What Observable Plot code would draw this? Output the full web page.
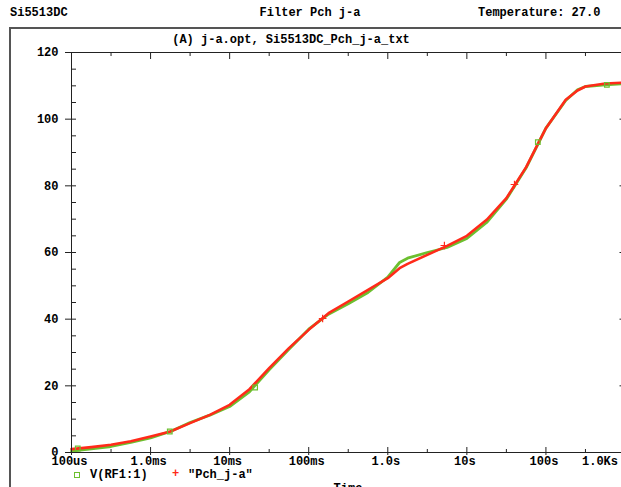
<!DOCTYPE html>
<html>
<head>
<meta charset="utf-8">
<script src="https://cdn.jsdelivr.net/npm/d3@7"></script>
<script src="https://cdn.jsdelivr.net/npm/@observablehq/plot@0.6"></script>
<style>
  html, body { margin: 0; padding: 0; background: #fff; overflow: hidden; }
  #wrap { position: relative; width: 621px; height: 487px; overflow: hidden; background: #fff; }
  #wrap svg { position: absolute; left: 0; top: 0; max-width: none !important; }
  .t { position: absolute; font-family: "Liberation Mono", "DejaVu Sans Mono", monospace; font-weight: bold; font-size: 12px; line-height: 11px; color: #000; white-space: pre; }
  #frame { position: absolute; left: 9px; top: 27px; width: 700px; height: 600px; border-left: 2px solid #555; border-top: 2px solid #555; }
</style>
</head>
<body>
<div id="wrap">
  <div id="frame"></div>
</div>
<script>
// ---- data ----
const timeS = [1e-4, 1.78e-4, 3.16e-4, 5.62e-4, 1e-3, 1.78e-3, 3.16e-3, 5.62e-3, 1e-2, 1.78e-2, 3.16e-2, 5.62e-2,
  0.1, 0.178, 0.316, 0.562, 1, 1.41, 1.78, 3.16, 5.62, 10, 17.8, 31.6, 56.2, 100, 178, 251, 316, 562, 1000];
const vRF1 = [0.4, 1.1, 1.8, 3.0, 4.4, 6.3, 9.0, 11.2, 13.8, 18.2, 24.8, 31.0,
  37.0, 41.5, 44.6, 48.0, 52.6, 57.0, 58.3, 60.0, 61.5, 64.2, 69.0, 76.0, 85.4, 97.3, 105.6, 108.8, 109.8, 110.3, 110.7];
const pchJa = [1.0, 1.6, 2.3, 3.4, 4.8, 6.3, 8.8, 11.3, 14.3, 19.0, 25.3, 31.3,
  36.8, 41.8, 45.3, 48.8, 52.3, 55.3, 56.6, 59.3, 62.0, 65.0, 69.8, 76.3, 85.6, 97.3, 105.8, 108.6, 109.8, 110.7, 111.0];

const greenMarkT = [1.2e-4, 1.75e-3, 2.1e-2, 79, 590];
const greenMarkV = [1.2, 6.3, 19.5, 93.1, 110.3];
const redMarkT = [0.15, 5.2, 40];
const redMarkV = [40.2, 62.1, 80.4];

const yMajor = [0, 20, 40, 60, 80, 100, 120];
const yMinor = [0, 5, 10, 15, 20, 25, 30, 35, 40, 45, 50, 55, 60, 65, 70, 75, 80, 85, 90, 95, 100, 105, 110, 115, 120];
const xMajor = [1e-4, 1e-3, 1e-2, 1e-1, 1, 10, 100, 1000];
const xLabels = ["100us", "1.0ms", "10ms", "100ms", "1.0s", "10s", "100s", "1.0Ks"];
const xMinor = [3.162e-4, 3.162e-3, 3.162e-2, 0.3162, 3.162, 31.62, 316.2];

const seriesNames = ["V(RF1:1)", "\"Pch_j-a\""];
const seriesColors = ["#6cbf2f", "#ff2a1a"];

const headerLeft = "Si5513DC";
const headerCenter = "Filter Pch j-a";
const headerRight = "Temperature: 27.0";
const subtitle = "(A) j-a.opt, Si5513DC_Pch_j-a_txt";
const xTitle = "Time";

// ---- build ----
const green = timeS.map((t, i) => ({t, v: vRF1[i]}));
const red = timeS.map((t, i) => ({t, v: pchJa[i]}));
const gMarks = greenMarkT.map((t, i) => ({t, v: greenMarkV[i]}));
const rMarks = redMarkT.map((t, i) => ({t, v: redMarkV[i]}));
const labelOf = new Map(xMajor.map((d, i) => [d, xLabels[i]]));
const blank = () => "";
const AX = "#222";

const W = 640, H = 487;
const chart = Plot.plot({
  width: W, height: H,
  marginLeft: 71, marginRight: 15.5, marginTop: 52, marginBottom: 35,
  x: {type: "log", domain: [1e-4, 1e3], axis: null},
  y: {domain: [0, 120], axis: null},
  style: {fontFamily: "'Liberation Mono', 'DejaVu Sans Mono', monospace", fontSize: "12px", fontWeight: "bold", background: "transparent", color: "#000", overflow: "visible", maxWidth: "none"},
  marks: [
    Plot.line(green, {x: "t", y: "v", stroke: seriesColors[0], strokeWidth: 2.8}),
    Plot.line(red, {x: "t", y: "v", stroke: seriesColors[1], strokeWidth: 2.6}),
    Plot.dot(gMarks, {x: "t", y: "v", symbol: "square", r: 2.6, stroke: seriesColors[0], fill: "none", strokeWidth: 1.2}),
    Plot.dot(rMarks, {x: "t", y: "v", symbol: "plus", r: 2.6, stroke: seriesColors[1], fill: seriesColors[1], strokeWidth: 1.2}),
    Plot.frame({stroke: AX}),
    Plot.axisY(yMajor, {anchor: "left", tickSize: 6, tickPadding: 7, tickFormat: d => String(d), stroke: AX, label: null}),
    Plot.axisY(yMinor, {anchor: "left", tickSize: -5, tickFormat: blank, stroke: AX, label: null}),
    Plot.axisY(yMajor, {anchor: "right", tickSize: -6, tickFormat: blank, stroke: AX, label: null}),
    Plot.axisX(xMajor, {anchor: "bottom", tickSize: 3, tickFormat: blank, stroke: AX, label: null}),
    Plot.axisX(xMajor, {anchor: "bottom", tickSize: -5, tickFormat: blank, stroke: AX, label: null}),
    Plot.axisX(xMinor, {anchor: "bottom", tickSize: -3, tickFormat: blank, stroke: AX, label: null}),
    Plot.axisX(xMajor.slice(0, 7), {anchor: "bottom", tickSize: 0, tickPadding: 4, dx: -2, tickFormat: d => labelOf.get(d), label: null}),
    Plot.axisX(xMajor.slice(7), {anchor: "bottom", tickSize: 0, tickPadding: 4, textAnchor: "end", dx: -7, tickFormat: d => labelOf.get(d), label: null}),
    Plot.axisX(xMajor, {anchor: "top", tickSize: -6, tickFormat: blank, stroke: AX, label: null}),
    Plot.axisX(xMinor, {anchor: "top", tickSize: -3, tickFormat: blank, stroke: AX, label: null})
  ]
});
chart.style.maxWidth = "none";
const wrap = document.getElementById("wrap");
wrap.appendChild(chart);

function addText(str, x, cy, anchor, color) {
  const d = document.createElement("div");
  d.className = "t";
  d.textContent = str;
  d.style.top = (cy - 5.5) + "px";
  if (anchor === "middle") { d.style.left = x + "px"; d.style.transform = "translateX(-50%)"; }
  else d.style.left = x + "px";
  if (color) d.style.color = color;
  wrap.appendChild(d);
  return d;
}
addText(headerLeft, 10, 13, "start");
addText(headerCenter, 310, 13, "middle");
addText(headerRight, 478, 13, "start");
addText(subtitle, 291, 40, "middle");
addText(xTitle, 348, 489, "middle");

// legend
const sq = document.createElement("div");
sq.style.cssText = `position:absolute;left:74px;top:472px;width:4px;height:4px;border:1px solid ${seriesColors[0]};box-sizing:content-box;`;
wrap.appendChild(sq);
addText(seriesNames[0], 90, 475, "start");
addText("+", 172, 474, "start", seriesColors[1]);
addText(seriesNames[1], 188, 475, "start");
</script>
</body>
</html>
